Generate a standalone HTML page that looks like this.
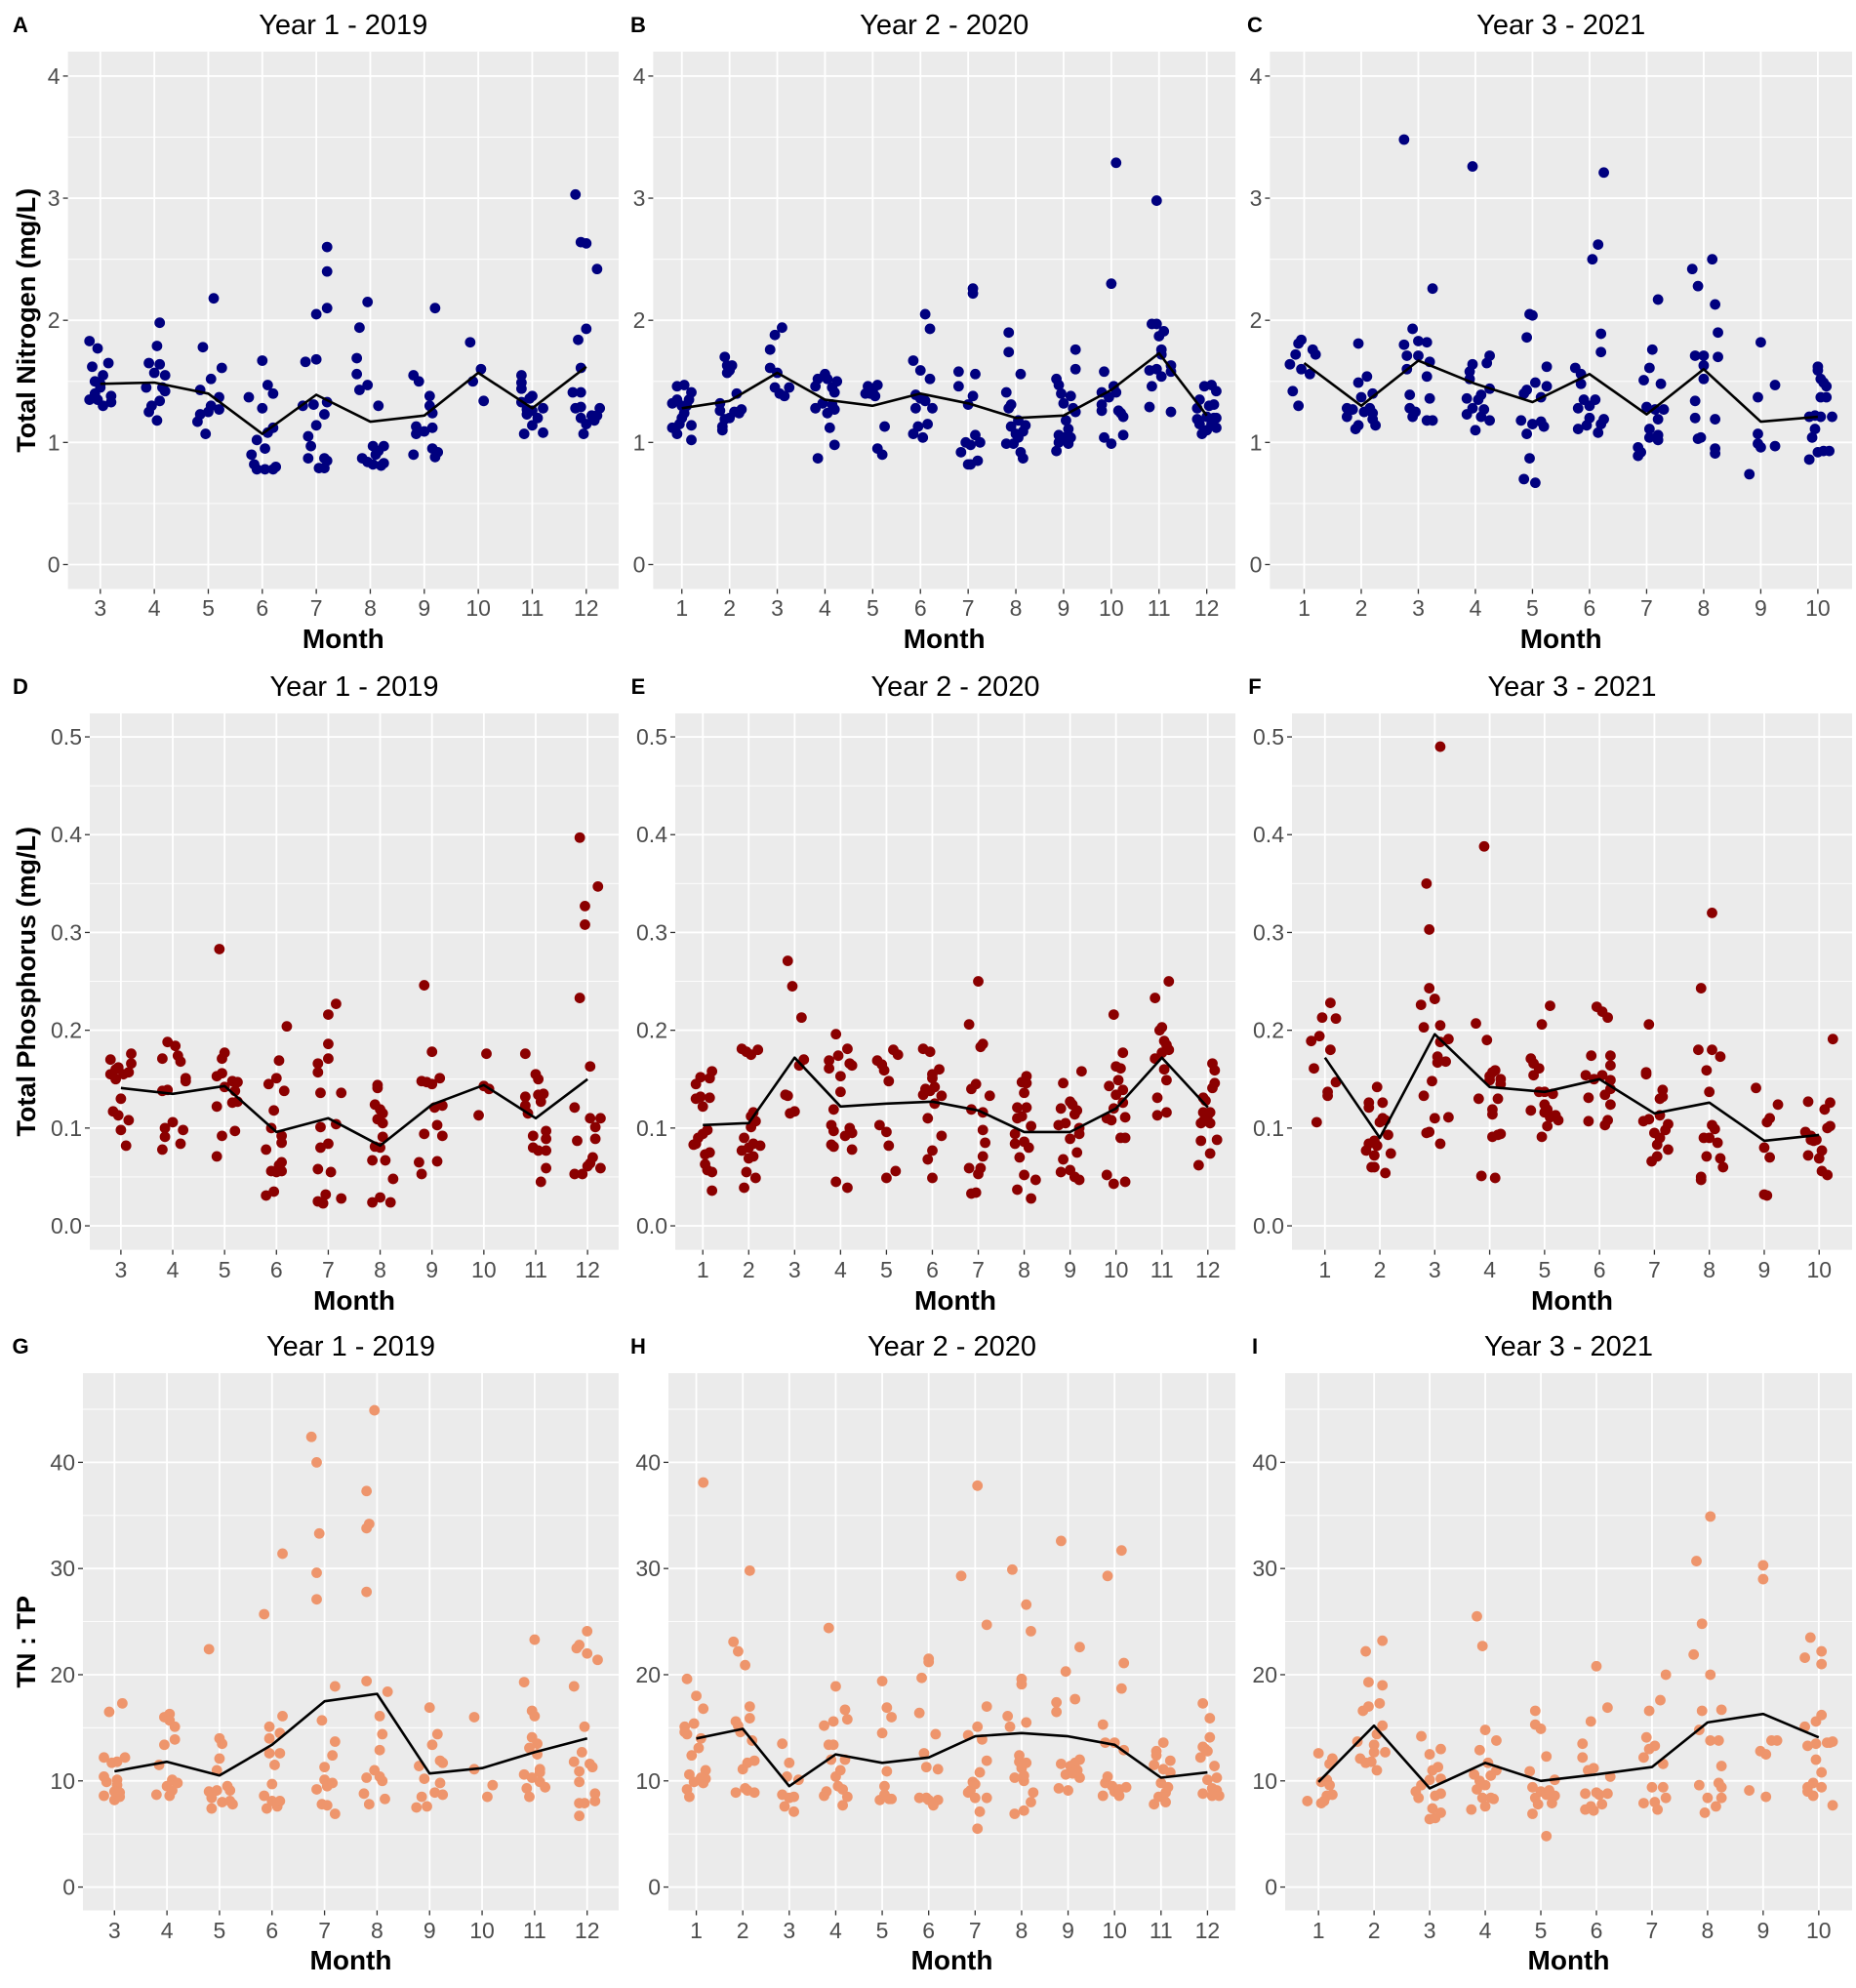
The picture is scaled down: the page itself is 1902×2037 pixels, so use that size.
<!DOCTYPE html>
<html><head><meta charset="utf-8"><style>
html,body{margin:0;padding:0;background:#fff;}
svg{display:block;font-family:"Liberation Sans",Arial,sans-serif;}
</style></head><body>
<svg id="fig" xmlns="http://www.w3.org/2000/svg" width="1902" height="2037" viewBox="0 0 1902 2037"></svg>
<script>
// ---------- DATA ----------
const monthsY1 = [3,4,5,6,7,8,9,10,11,12];
const monthsY2 = [1,2,3,4,5,6,7,8,9,10,11,12];
const monthsY3 = [1,2,3,4,5,6,7,8,9,10];
const tnTicks = [0,1,2,3,4];
const tpTicks = [0.0,0.1,0.2,0.3,0.4,0.5];
const ratioTicks = [0,10,20,30,40];
const tpTickLabels = ["0.0","0.1","0.2","0.3","0.4","0.5"];

const meanA = [1.48,1.49,1.40,1.07,1.39,1.17,1.22,1.57,1.28,1.62];
const meanB = [1.28,1.34,1.57,1.35,1.30,1.40,1.32,1.20,1.22,1.43,1.73,1.22];
const meanC = [1.65,1.30,1.67,1.48,1.33,1.56,1.23,1.60,1.17,1.21];
const meanD = [0.141,0.135,0.143,0.096,0.110,0.082,0.124,0.144,0.110,0.150];
const meanE = [0.103,0.105,0.172,0.122,0.125,0.127,0.118,0.096,0.096,0.120,0.172,0.121];
const meanF = [0.172,0.090,0.196,0.142,0.137,0.150,0.115,0.126,0.087,0.093];
const meanG = [10.9,11.8,10.5,13.4,17.5,18.2,10.7,11.2,12.7,14.0];
const meanH = [14.0,14.9,9.5,12.5,11.7,12.2,14.2,14.5,14.2,13.4,10.3,10.8];
const meanI = [9.9,15.2,9.3,11.7,10.0,10.6,11.3,15.5,16.3,14.1];

const ptsA = [[2.8,1.83],[2.85,1.62],[2.9,1.50],[2.95,1.77],[2.9,1.40],[3.0,1.45],[2.8,1.35],[2.95,1.35],[3.05,1.55],[3.05,1.30],[3.15,1.65],[3.2,1.38],[3.2,1.33],[3.0,1.48],
[3.85,1.45],[3.9,1.65],[3.9,1.25],[3.95,1.30],[4.0,1.57],[4.05,1.79],[4.1,1.98],[4.1,1.64],[4.1,1.34],[4.05,1.18],[4.2,1.55],[4.2,1.42],[4.15,1.45],
[4.8,1.17],[4.85,1.43],[4.85,1.23],[4.9,1.78],[4.95,1.07],[5.0,1.25],[5.05,1.52],[5.05,1.30],[5.1,2.18],[5.2,1.37],[5.2,1.27],[5.25,1.61],
[5.75,1.37],[5.8,0.90],[5.85,0.82],[5.9,1.02],[5.9,0.78],[6.0,1.28],[6.0,1.67],[6.05,0.95],[6.05,0.78],[6.1,1.08],[6.1,1.47],[6.2,1.40],[6.2,1.12],[6.25,0.80],[6.2,0.78],
[6.75,1.30],[6.8,1.66],[6.85,1.05],[6.85,0.87],[6.9,0.97],[6.95,1.31],[7.0,1.68],[7.0,2.05],[7.0,1.14],[7.05,0.79],[7.15,0.79],[7.15,0.87],[7.15,1.23],[7.2,2.10],[7.2,2.40],[7.2,2.60],[7.2,1.33],[7.2,0.85],
[7.75,1.69],[7.75,1.56],[7.8,1.43],[7.8,1.94],[7.85,0.87],[7.95,1.47],[7.95,2.15],[7.95,0.84],[8.05,0.82],[8.05,0.97],[8.1,0.90],[8.15,0.93],[8.15,1.30],[8.2,0.81],[8.25,0.83],[8.25,0.97],
[8.8,0.90],[8.8,1.55],[8.85,1.13],[8.85,1.07],[8.9,1.50],[9.0,1.09],[9.1,1.38],[9.1,1.30],[9.15,0.95],[9.15,1.24],[9.15,1.12],[9.2,2.10],[9.2,0.88],[9.25,0.92],
[9.85,1.82],[9.9,1.50],[10.05,1.60],[10.1,1.34],
[10.8,1.55],[10.8,1.49],[10.8,1.44],[10.8,1.33],[10.85,1.07],[10.9,1.27],[10.9,1.23],[10.95,1.36],[11.0,1.38],[11.0,1.26],[11.0,1.14],[11.1,1.20],[11.2,1.28],[11.2,1.08],
[11.75,1.41],[11.8,3.03],[11.8,1.28],[11.85,1.84],[11.9,2.64],[11.9,1.61],[11.9,1.41],[11.9,1.29],[11.9,1.20],[11.95,1.07],[12.0,2.63],[12.0,1.93],[12.0,1.15],[12.1,1.22],[12.15,1.18],[12.2,1.22],[12.2,2.42],[12.25,1.28]];

const ptsB = [[0.8,1.12],[0.8,1.32],[0.9,1.35],[0.9,1.46],[0.9,1.07],[0.95,1.15],[1.0,1.20],[1.05,1.24],[1.05,1.47],[1.1,1.30],[1.15,1.35],[1.2,1.41],[1.2,1.14],[1.2,1.02],[1.0,1.30],
[1.8,1.26],[1.8,1.32],[1.85,1.10],[1.85,1.13],[1.9,1.19],[1.9,1.70],[1.95,1.63],[1.95,1.57],[2.0,1.59],[2.0,1.20],[2.05,1.63],[2.1,1.25],[2.15,1.40],[2.2,1.24],[2.25,1.27],
[2.85,1.61],[2.85,1.76],[2.95,1.88],[2.95,1.45],[3.0,1.57],[3.05,1.40],[3.1,1.94],[3.15,1.38],[3.25,1.45],
[3.8,1.28],[3.8,1.46],[3.85,1.52],[3.85,0.87],[3.95,1.32],[4.0,1.56],[4.05,1.24],[4.05,1.52],[4.1,1.12],[4.15,1.45],[4.15,1.31],[4.2,1.41],[4.2,1.27],[4.25,1.50],[4.2,0.98],
[4.85,1.40],[4.9,1.46],[4.95,1.40],[5.0,1.42],[5.05,1.38],[5.1,1.47],[5.1,0.95],[5.2,0.90],[5.25,1.13],
[5.85,1.67],[5.85,1.07],[5.9,1.39],[5.9,1.28],[5.95,1.13],[6.0,1.36],[6.0,1.59],[6.05,1.04],[6.1,2.05],[6.1,1.34],[6.15,1.15],[6.2,1.93],[6.2,1.52],[6.25,1.28],
[6.8,1.58],[6.8,1.46],[6.85,0.92],[6.95,1.00],[7.0,1.31],[7.0,0.82],[7.05,0.82],[7.05,0.98],[7.1,2.26],[7.1,2.22],[7.1,1.38],[7.15,1.56],[7.15,1.06],[7.2,0.85],[7.25,1.00],
[7.8,1.41],[7.8,0.99],[7.85,1.74],[7.85,1.90],[7.85,1.28],[7.9,1.31],[7.9,1.13],[7.95,0.99],[8.0,1.07],[8.05,1.04],[8.05,1.18],[8.1,1.56],[8.1,0.92],[8.15,0.87],[8.15,1.09],[8.2,1.14],
[8.85,1.52],[8.85,0.93],[8.9,1.47],[8.9,1.00],[8.9,1.06],[8.95,1.40],[9.0,1.32],[9.0,1.04],[9.05,1.18],[9.1,0.99],[9.1,1.11],[9.15,1.38],[9.15,1.04],[9.2,1.28],[9.25,1.76],[9.25,1.60],[9.25,1.25],
[9.8,1.41],[9.8,1.31],[9.8,1.26],[9.85,1.58],[9.85,1.04],[9.95,1.37],[10.0,2.30],[10.0,0.99],[10.05,1.46],[10.1,3.29],[10.1,1.41],[10.15,1.26],[10.2,1.24],[10.25,1.21],[10.25,1.06],
[10.8,1.59],[10.8,1.29],[10.85,1.46],[10.85,1.97],[10.95,1.97],[10.95,2.98],[10.95,1.60],[11.0,1.87],[11.05,1.76],[11.05,1.72],[11.1,1.91],[11.05,1.54],[11.25,1.63],[11.25,1.58],[11.25,1.25],
[11.8,1.19],[11.8,1.28],[11.85,1.35],[11.85,1.15],[11.9,1.07],[11.95,1.46],[12.0,1.10],[12.0,1.21],[12.05,1.30],[12.1,1.47],[12.15,1.31],[12.15,1.20],[12.2,1.42],[12.2,1.12],[12.2,1.20],[12.1,1.15]];

const ptsC = [[0.75,1.64],[0.8,1.42],[0.85,1.72],[0.9,1.81],[0.9,1.30],[0.95,1.84],[0.95,1.60],[1.1,1.56],[1.15,1.76],[1.2,1.72],
[1.75,1.28],[1.75,1.21],[1.85,1.27],[1.9,1.11],[1.95,1.49],[1.95,1.81],[1.95,1.14],[2.0,1.37],[2.05,1.25],[2.1,1.54],[2.15,1.28],[2.2,1.40],[2.2,1.24],[2.2,1.19],[2.25,1.14],
[2.75,1.80],[2.75,3.48],[2.8,1.71],[2.8,1.60],[2.85,1.28],[2.85,1.39],[2.9,1.93],[2.9,1.21],[2.95,1.25],[3.0,1.83],[3.0,1.71],[3.15,1.82],[3.15,1.54],[3.15,1.18],[3.2,1.36],[3.2,1.66],[3.25,2.26],[3.25,1.18],
[3.85,1.36],[3.85,1.23],[3.9,1.58],[3.9,1.52],[3.95,1.64],[3.95,1.28],[3.95,3.26],[4.0,1.10],[4.05,1.35],[4.1,1.39],[4.1,1.21],[4.15,1.27],[4.2,1.65],[4.25,1.71],[4.25,1.44],[4.25,1.18],
[4.8,1.18],[4.85,1.40],[4.85,0.70],[4.9,1.07],[4.9,1.43],[4.9,1.86],[4.95,2.05],[4.95,0.87],[5.0,2.04],[5.0,1.15],[5.05,0.67],[5.05,1.49],[5.15,1.37],[5.15,1.17],[5.2,1.13],[5.25,1.46],[5.25,1.62],
[5.75,1.61],[5.8,1.28],[5.8,1.11],[5.85,1.56],[5.85,1.48],[5.9,1.35],[5.95,1.14],[6.0,1.30],[6.0,1.20],[6.05,2.50],[6.1,1.35],[6.15,2.62],[6.15,1.08],[6.2,1.15],[6.2,1.74],[6.2,1.89],[6.25,3.21],[6.25,1.19],
[6.85,0.96],[6.85,0.89],[6.9,0.92],[6.95,1.51],[7.0,1.29],[7.05,1.11],[7.05,1.61],[7.05,1.04],[7.1,1.76],[7.15,1.27],[7.2,1.19],[7.2,2.17],[7.2,1.02],[7.2,1.06],[7.25,1.48],[7.3,1.27],
[7.8,2.42],[7.85,1.71],[7.85,1.34],[7.85,1.20],[7.9,2.28],[7.9,1.03],[7.95,1.04],[8.0,1.63],[8.0,1.52],[8.0,1.71],[8.15,2.50],[8.2,1.19],[8.2,2.13],[8.2,0.91],[8.2,0.95],[8.25,1.90],[8.25,1.70],
[8.8,0.74],[8.95,1.37],[8.95,1.07],[8.95,0.99],[9.0,1.82],[9.0,0.96],[9.25,1.47],[9.25,0.97],
[9.85,1.21],[9.85,0.86],[9.9,1.04],[9.95,1.11],[9.95,1.22],[10.0,1.62],[10.0,0.92],[10.05,1.52],[10.05,1.37],[10.05,1.21],[10.1,1.49],[10.1,0.93],[10.15,1.46],[10.15,1.37],[10.2,0.93],[10.25,1.21],[10.0,1.59]];

const ptsD = [[2.8,0.155],[2.8,0.170],[2.85,0.117],[2.9,0.150],[2.9,0.160],[2.95,0.162],[2.95,0.113],[3.0,0.130],[3.0,0.098],[3.05,0.155],[3.1,0.082],[3.15,0.108],[3.2,0.166],[3.2,0.176],[3.15,0.157],
[3.8,0.171],[3.8,0.138],[3.8,0.078],[3.85,0.100],[3.85,0.091],[3.9,0.188],[3.9,0.139],[4.0,0.106],[4.05,0.184],[4.1,0.174],[4.15,0.168],[4.15,0.084],[4.2,0.098],[4.25,0.151],[4.25,0.148],
[4.85,0.071],[4.85,0.122],[4.85,0.153],[4.9,0.283],[4.95,0.156],[4.95,0.092],[4.95,0.171],[5.0,0.177],[5.0,0.142],[5.15,0.148],[5.15,0.126],[5.2,0.138],[5.2,0.097],[5.25,0.147],[5.25,0.127],
[5.8,0.031],[5.8,0.078],[5.85,0.145],[5.9,0.100],[5.9,0.056],[5.95,0.035],[5.95,0.118],[6.0,0.151],[6.0,0.055],[6.05,0.062],[6.05,0.169],[6.1,0.085],[6.1,0.092],[6.1,0.065],[6.1,0.056],[6.15,0.138],[6.2,0.204],
[6.8,0.025],[6.8,0.058],[6.8,0.157],[6.8,0.166],[6.85,0.101],[6.85,0.080],[6.85,0.136],[6.9,0.023],[6.95,0.032],[7.0,0.186],[7.0,0.171],[7.0,0.216],[7.0,0.084],[7.05,0.055],[7.15,0.104],[7.15,0.227],[7.25,0.028],[7.25,0.136],
[7.85,0.067],[7.85,0.024],[7.9,0.124],[7.9,0.081],[7.95,0.109],[7.95,0.144],[7.95,0.141],[8.0,0.119],[8.0,0.080],[8.0,0.029],[8.05,0.115],[8.05,0.105],[8.05,0.091],[8.1,0.067],[8.2,0.024],[8.25,0.048],
[8.75,0.065],[8.8,0.148],[8.8,0.053],[8.85,0.246],[8.85,0.094],[8.9,0.147],[9.0,0.178],[9.0,0.145],[9.05,0.121],[9.1,0.103],[9.1,0.066],[9.15,0.151],[9.2,0.123],[9.2,0.092],
[9.9,0.113],[10.0,0.143],[10.05,0.176],[10.1,0.140],
[10.8,0.176],[10.8,0.132],[10.8,0.123],[10.85,0.115],[10.95,0.080],[10.95,0.092],[11.0,0.155],[11.05,0.077],[11.05,0.134],[11.05,0.150],[11.1,0.045],[11.1,0.127],[11.15,0.135],[11.2,0.097],[11.2,0.089],[11.2,0.077],[11.2,0.059],
[11.75,0.121],[11.75,0.053],[11.8,0.087],[11.85,0.397],[11.85,0.233],[11.9,0.053],[11.95,0.308],[11.95,0.327],[12.0,0.061],[12.05,0.163],[12.05,0.110],[12.05,0.064],[12.1,0.070],[12.15,0.101],[12.15,0.089],[12.2,0.347],[12.25,0.110],[12.25,0.059]];

const ptsE = [[0.8,0.083],[0.85,0.084],[0.85,0.145],[0.85,0.130],[0.9,0.090],[0.95,0.132],[0.95,0.152],[1.0,0.122],[1.0,0.094],[1.05,0.063],[1.05,0.073],[1.1,0.057],[1.1,0.098],[1.15,0.131],[1.15,0.151],[1.15,0.075],[1.2,0.158],[1.2,0.055],[1.2,0.036],
[1.85,0.077],[1.85,0.181],[1.9,0.090],[1.9,0.039],[1.95,0.178],[1.95,0.055],[2.0,0.069],[2.0,0.080],[2.05,0.101],[2.05,0.112],[2.05,0.175],[2.1,0.116],[2.1,0.084],[2.1,0.071],[2.15,0.107],[2.15,0.049],[2.2,0.180],[2.25,0.082],
[2.8,0.134],[2.85,0.271],[2.85,0.133],[2.9,0.115],[2.95,0.245],[3.0,0.117],[3.1,0.164],[3.15,0.213],[3.2,0.170],
[3.75,0.169],[3.75,0.161],[3.8,0.103],[3.8,0.083],[3.85,0.119],[3.85,0.097],[3.85,0.081],[3.9,0.045],[3.9,0.196],[3.95,0.174],[4.0,0.153],[4.0,0.137],[4.1,0.092],[4.15,0.181],[4.15,0.039],[4.2,0.166],[4.2,0.100],[4.25,0.164],[4.25,0.095],[4.25,0.078],
[4.8,0.169],[4.85,0.103],[4.9,0.165],[4.95,0.159],[5.0,0.096],[5.0,0.049],[5.05,0.148],[5.05,0.082],[5.15,0.180],[5.2,0.056],[5.25,0.175],
[5.8,0.181],[5.8,0.134],[5.85,0.140],[5.9,0.110],[5.9,0.068],[5.95,0.178],[5.95,0.138],[6.0,0.151],[6.0,0.155],[6.0,0.077],[6.0,0.049],[6.05,0.142],[6.05,0.125],[6.15,0.160],[6.2,0.133],[6.2,0.092],
[6.8,0.206],[6.8,0.059],[6.85,0.140],[6.85,0.119],[6.85,0.033],[6.95,0.145],[6.95,0.034],[7.0,0.053],[7.0,0.250],[7.05,0.183],[7.05,0.059],[7.1,0.071],[7.1,0.116],[7.1,0.186],[7.1,0.098],[7.15,0.085],[7.25,0.133],
[7.8,0.094],[7.8,0.084],[7.85,0.121],[7.85,0.110],[7.85,0.037],[7.9,0.070],[7.95,0.147],[7.95,0.112],[8.0,0.136],[8.0,0.086],[8.0,0.052],[8.05,0.153],[8.05,0.121],[8.05,0.146],[8.1,0.080],[8.15,0.102],[8.15,0.028],[8.25,0.047],
[8.75,0.103],[8.8,0.055],[8.8,0.120],[8.85,0.068],[8.85,0.146],[8.9,0.105],[9.0,0.089],[9.0,0.127],[9.0,0.057],[9.05,0.124],[9.1,0.114],[9.1,0.050],[9.15,0.118],[9.15,0.075],[9.2,0.100],[9.2,0.094],[9.2,0.047],[9.25,0.158],
[9.8,0.110],[9.8,0.052],[9.85,0.143],[9.9,0.108],[9.95,0.216],[9.95,0.043],[9.95,0.120],[10.0,0.163],[10.0,0.134],[10.05,0.149],[10.1,0.161],[10.1,0.090],[10.15,0.126],[10.15,0.139],[10.15,0.177],[10.2,0.111],[10.2,0.045],[10.2,0.090],
[10.85,0.233],[10.85,0.171],[10.9,0.131],[10.9,0.113],[10.95,0.200],[11.0,0.203],[11.0,0.177],[11.05,0.160],[11.05,0.189],[11.1,0.116],[11.1,0.149],[11.1,0.185],[11.15,0.250],[11.15,0.180],
[11.8,0.062],[11.85,0.105],[11.85,0.087],[11.9,0.116],[11.9,0.131],[11.9,0.107],[11.95,0.128],[12.0,0.113],[12.05,0.116],[12.05,0.074],[12.05,0.105],[12.1,0.166],[12.1,0.141],[12.15,0.146],[12.15,0.159],[12.2,0.088]];

const ptsF = [[0.75,0.189],[0.8,0.161],[0.85,0.106],[0.9,0.194],[0.95,0.213],[1.05,0.137],[1.05,0.133],[1.1,0.180],[1.1,0.228],[1.2,0.212],[1.2,0.147],
[1.75,0.077],[1.8,0.126],[1.8,0.121],[1.8,0.084],[1.85,0.060],[1.9,0.087],[1.9,0.072],[1.9,0.060],[1.95,0.082],[1.95,0.142],[2.0,0.106],[2.05,0.126],[2.05,0.110],[2.1,0.108],[2.1,0.054],[2.15,0.093],[2.2,0.074],
[2.75,0.226],[2.8,0.203],[2.8,0.133],[2.85,0.350],[2.85,0.095],[2.9,0.243],[2.9,0.303],[2.9,0.096],[2.95,0.148],[3.0,0.232],[3.0,0.110],[3.05,0.173],[3.05,0.167],[3.1,0.490],[3.1,0.205],[3.1,0.188],[3.1,0.084],[3.2,0.168],[3.25,0.191],[3.25,0.111],
[3.75,0.207],[3.8,0.130],[3.85,0.051],[3.9,0.388],[3.95,0.190],[4.0,0.153],[4.0,0.149],[4.05,0.157],[4.05,0.119],[4.05,0.114],[4.05,0.091],[4.1,0.159],[4.1,0.049],[4.15,0.130],[4.15,0.093],[4.2,0.094],[4.2,0.150],[4.2,0.145],
[4.75,0.171],[4.75,0.118],[4.8,0.154],[4.8,0.166],[4.9,0.137],[4.9,0.161],[4.95,0.206],[4.95,0.091],[5.0,0.137],[5.0,0.124],[5.0,0.116],[5.05,0.102],[5.05,0.119],[5.1,0.225],[5.1,0.111],[5.15,0.135],[5.2,0.113],[5.25,0.108],
[5.75,0.154],[5.8,0.131],[5.8,0.107],[5.85,0.174],[5.9,0.150],[5.95,0.224],[6.05,0.219],[6.05,0.154],[6.1,0.134],[6.1,0.103],[6.15,0.108],[6.15,0.213],[6.2,0.174],[6.2,0.164],[6.2,0.149],[6.2,0.140],[6.2,0.124],
[6.8,0.107],[6.85,0.157],[6.85,0.155],[6.9,0.206],[6.9,0.109],[6.95,0.066],[7.0,0.095],[7.05,0.071],[7.05,0.083],[7.1,0.130],[7.1,0.090],[7.1,0.113],[7.15,0.139],[7.15,0.132],[7.2,0.098],[7.25,0.104],[7.25,0.078],
[7.8,0.180],[7.85,0.243],[7.85,0.050],[7.85,0.047],[7.9,0.090],[7.95,0.159],[7.95,0.071],[8.0,0.137],[8.0,0.090],[8.05,0.320],[8.05,0.180],[8.05,0.103],[8.1,0.099],[8.15,0.085],[8.2,0.173],[8.2,0.069],[8.25,0.060],
[8.85,0.141],[9.0,0.080],[9.0,0.032],[9.05,0.106],[9.05,0.031],[9.1,0.110],[9.1,0.070],[9.25,0.124],
[9.75,0.096],[9.8,0.127],[9.8,0.072],[9.85,0.092],[9.85,0.088],[9.9,0.087],[9.95,0.088],[10.0,0.069],[10.05,0.077],[10.05,0.056],[10.1,0.119],[10.15,0.100],[10.15,0.052],[10.2,0.102],[10.2,0.126],[10.25,0.191]];

const ptsG = [[2.8,12.2],[2.8,10.4],[2.8,8.6],[2.85,9.9],[2.9,16.5],[2.95,11.7],[3.0,8.2],[3.05,10.1],[3.05,11.8],[3.05,9.6],[3.1,8.9],[3.1,8.5],[3.15,17.3],[3.2,12.2],[3.0,9.0],
[3.8,8.7],[3.85,11.5],[3.95,16.0],[3.95,13.4],[4.0,9.5],[4.05,16.3],[4.05,15.7],[4.05,8.6],[4.1,9.1],[4.1,10.1],[4.15,15.1],[4.15,13.9],[4.2,9.8],
[4.8,22.4],[4.8,9.0],[4.85,7.4],[4.85,8.4],[4.95,11.0],[4.95,9.1],[5.0,12.1],[5.0,14.0],[5.05,8.0],[5.05,13.5],[5.15,9.5],[5.2,9.1],[5.2,8.1],[5.25,7.8],
[5.85,25.7],[5.85,8.6],[5.9,7.4],[5.95,15.1],[5.95,14.0],[5.95,12.6],[6.0,9.7],[6.0,8.1],[6.05,11.5],[6.1,7.6],[6.15,14.5],[6.15,12.6],[6.15,8.1],[6.2,31.4],[6.2,16.1],
[6.75,42.4],[6.85,40.0],[6.85,29.6],[6.85,27.1],[6.85,9.2],[6.9,33.3],[6.95,15.7],[6.95,7.8],[7.0,11.3],[7.0,10.1],[7.05,9.5],[7.05,7.7],[7.15,12.4],[7.15,9.8],[7.2,18.9],[7.2,13.7],[7.2,6.9],
[7.75,8.8],[7.8,33.8],[7.8,37.3],[7.8,27.8],[7.8,19.4],[7.8,10.3],[7.85,34.2],[7.85,7.8],[7.95,44.9],[7.95,11.0],[8.05,16.1],[8.05,12.9],[8.05,10.4],[8.1,10.0],[8.1,14.4],[8.15,8.3],[8.2,18.4],
[8.75,7.5],[8.8,11.4],[8.85,8.5],[8.9,10.2],[8.95,7.6],[9.0,16.9],[9.05,13.4],[9.1,8.9],[9.15,14.4],[9.2,11.9],[9.2,9.8],[9.25,11.7],[9.25,8.7],
[9.85,16.0],[9.85,11.1],[10.1,8.5],[10.2,9.6],
[10.8,19.3],[10.8,10.6],[10.85,9.3],[10.9,13.1],[10.9,8.5],[10.95,10.3],[10.95,14.1],[10.95,16.6],[11.0,16.1],[11.0,23.3],[11.05,13.5],[11.05,12.5],[11.1,11.1],[11.1,10.8],[11.1,9.9],[11.2,9.4],
[11.75,18.9],[11.75,11.8],[11.8,22.5],[11.85,22.8],[11.85,10.9],[11.85,9.9],[11.85,7.9],[11.85,6.7],[11.9,12.7],[11.95,15.1],[11.95,7.9],[12.0,24.1],[12.0,22.0],[12.05,11.6],[12.1,11.3],[12.15,8.1],[12.15,8.8],[12.2,21.4]];

const ptsH = [[0.75,14.6],[0.75,15.1],[0.8,19.6],[0.8,9.2],[0.8,14.4],[0.85,8.5],[0.85,10.6],[0.9,12.4],[0.95,15.4],[0.95,9.9],[1.0,18.0],[1.05,13.1],[1.1,14.0],[1.15,38.1],[1.15,16.8],[1.15,9.8],[1.2,10.2],[1.2,11.0],[1.1,10.3],
[1.8,23.1],[1.85,8.9],[1.85,15.6],[1.9,22.2],[1.9,15.2],[1.95,14.6],[2.0,11.1],[2.05,9.3],[2.05,20.9],[2.1,11.7],[2.1,9.1],[2.15,29.8],[2.15,15.9],[2.15,17.0],[2.2,13.8],[2.25,8.9],[2.25,11.9],
[2.85,13.5],[2.85,8.7],[2.9,7.6],[2.95,10.4],[3.0,8.4],[3.0,11.7],[3.1,8.5],[3.1,7.1],[3.2,10.1],
[3.75,15.2],[3.75,8.6],[3.8,9.0],[3.85,24.4],[3.85,13.4],[3.9,12.0],[3.95,15.6],[3.95,13.4],[4.0,18.9],[4.0,10.4],[4.05,9.5],[4.1,11.0],[4.15,7.7],[4.15,9.2],[4.2,16.7],[4.2,12.0],[4.25,15.8],[4.25,8.5],
[4.95,8.2],[5.0,19.4],[5.0,14.5],[5.05,8.7],[5.05,9.5],[5.1,16.9],[5.1,10.9],[5.15,8.3],[5.2,16.0],[5.2,8.3],
[5.8,16.4],[5.8,8.4],[5.85,19.7],[5.9,12.6],[5.95,11.3],[5.95,8.4],[6.0,8.2],[6.0,21.5],[6.0,21.2],[6.1,7.7],[6.15,14.4],[6.2,11.1],[6.2,8.2],
[6.7,29.3],[6.85,8.9],[6.85,14.3],[6.9,9.1],[6.95,9.9],[7.0,8.4],[7.0,9.7],[7.05,37.8],[7.05,15.1],[7.1,10.8],[7.1,7.1],[7.05,5.5],[7.15,13.9],[7.25,24.7],[7.25,17.0],[7.25,11.9],[7.25,8.4],
[7.7,16.1],[7.75,15.1],[7.8,29.9],[7.85,6.9],[7.85,10.3],[7.95,12.4],[7.95,11.8],[8.0,19.1],[8.0,19.6],[8.0,11.2],[8.05,10.0],[8.05,10.5],[8.05,7.2],[8.1,26.6],[8.1,15.5],[8.1,11.7],[8.2,24.1],[8.2,8.0],[8.25,8.9],
[8.75,17.4],[8.75,16.5],[8.8,9.3],[8.85,11.6],[8.85,32.6],[8.95,10.6],[8.95,20.3],[9.0,9.1],[9.05,11.4],[9.1,10.7],[9.15,17.7],[9.15,11.7],[9.2,11.0],[9.25,22.6],[9.25,12.0],[9.25,10.3],
[9.75,15.3],[9.75,8.6],[9.8,13.6],[9.8,9.8],[9.85,29.3],[9.85,10.4],[9.95,9.5],[10.0,13.6],[10.0,9.0],[10.1,8.6],[10.1,9.2],[10.15,31.7],[10.15,18.7],[10.2,21.1],[10.2,12.9],[10.25,9.4],
[10.85,11.5],[10.85,7.8],[10.9,12.8],[10.9,12.4],[10.95,8.5],[11.0,9.8],[11.05,11.1],[11.1,8.9],[11.1,8.0],[11.05,13.6],[11.15,9.4],[11.2,11.9],[11.2,10.8],
[11.85,12.2],[11.9,17.3],[11.9,13.2],[11.9,8.8],[11.95,13.0],[12.0,12.8],[12.0,10.1],[12.05,15.9],[12.05,14.1],[12.1,9.3],[12.1,8.6],[12.15,11.4],[12.2,10.3],[12.2,9.1],[12.25,8.6]];

const ptsI = [[0.8,8.1],[1.0,12.6],[1.05,9.9],[1.05,7.9],[1.1,8.1],[1.15,10.1],[1.15,8.6],[1.2,11.6],[1.2,9.6],[1.25,12.1],[1.25,8.7],
[1.7,13.7],[1.75,12.1],[1.8,16.6],[1.85,22.2],[1.85,11.7],[1.9,19.3],[1.9,17.0],[1.95,11.8],[2.0,12.7],[2.0,13.4],[2.05,11.0],[2.05,14.4],[2.1,17.3],[2.15,15.2],[2.15,19.0],[2.15,23.2],[2.2,12.7],
[2.75,9.0],[2.8,8.4],[2.85,14.2],[2.85,9.6],[3.0,12.5],[3.0,10.1],[3.0,6.4],[3.05,11.0],[3.05,7.4],[3.1,6.5],[3.1,8.6],[3.15,11.3],[3.2,10.2],[3.2,8.8],[3.2,13.0],[3.2,7.0],
[3.75,7.3],[3.8,10.6],[3.85,25.5],[3.85,9.2],[3.9,10.0],[3.9,12.9],[3.95,22.7],[3.95,8.4],[4.0,7.6],[4.0,14.8],[4.0,9.6],[4.05,11.7],[4.1,10.5],[4.1,8.4],[4.15,8.3],[4.2,13.8],[4.2,11.0],
[4.8,10.9],[4.85,6.9],[4.85,9.4],[4.9,16.6],[4.9,15.3],[4.9,8.4],[4.95,7.8],[5.0,9.0],[5.0,14.9],[5.1,12.3],[5.1,8.7],[5.1,4.8],[5.15,9.1],[5.2,7.9],[5.25,10.1],[5.25,8.6],
[5.75,13.5],[5.75,12.2],[5.8,8.8],[5.8,7.3],[5.85,11.0],[5.9,15.6],[5.9,7.6],[5.95,11.2],[5.95,7.2],[6.0,20.8],[6.0,8.9],[6.05,8.7],[6.1,7.8],[6.2,16.9],[6.2,8.8],[6.25,10.4],
[6.85,12.2],[6.85,7.9],[6.9,14.1],[6.95,13.0],[6.95,16.6],[7.0,9.4],[7.05,13.3],[7.05,8.0],[7.1,7.3],[7.15,17.6],[7.2,11.6],[7.2,9.4],[7.25,20.0],[7.25,8.4],
[7.75,21.9],[7.8,30.7],[7.85,9.6],[7.85,14.8],[7.9,16.6],[7.9,24.8],[7.95,7.0],[8.0,8.4],[8.05,13.8],[8.05,20.0],[8.05,34.9],[8.15,7.6],[8.2,13.8],[8.2,9.8],[8.25,11.4],[8.25,9.4],[8.25,16.7],[8.25,8.4],
[8.75,9.1],[8.95,12.8],[9.0,30.3],[9.0,29.0],[9.05,12.5],[9.05,8.5],[9.15,13.8],[9.25,13.8],
[9.75,21.6],[9.75,15.1],[9.8,13.3],[9.8,9.4],[9.8,9.0],[9.85,23.5],[9.9,8.6],[9.9,9.8],[9.95,13.5],[9.95,12.0],[9.95,15.6],[10.05,22.2],[10.05,21.0],[10.05,16.2],[10.05,10.8],[10.05,9.4],[10.15,13.6],[10.2,13.6],[10.25,13.7],[10.25,7.7]];

// ---------- LAYOUT ----------
const NS = "http://www.w3.org/2000/svg";
const svg = document.getElementById('fig');
function mk(tag, attrs, parent){ const e=document.createElementNS(NS,tag); for(const k in attrs) e.setAttribute(k,attrs[k]); (parent||svg).appendChild(e); return e; }

const rows = [
  {top:52.9,bottom:603.5,ymin:-0.2,ymax:4.2,ticks:tnTicks,labels:tnTicks.map(String),minorStep:0.5,titleY:25,tickY:623,monthY:654,ytitle:"Total Nitrogen (mg/L)",color:"#00007F"},
  {top:731,bottom:1280.6,ymin:-0.0245,ymax:0.524,ticks:tpTicks,labels:tpTickLabels,minorStep:0.05,titleY:703,tickY:1301,monthY:1332,ytitle:"Total Phosphorus (mg/L)",color:"#8B0000"},
  {top:1407,bottom:1957.5,ymin:-2.2,ymax:48.4,ticks:ratioTicks,labels:ratioTicks.map(String),minorStep:5,titleY:1379,tickY:1978,monthY:2008,ytitle:"TN : TP",color:"#EE956C"}
];
const panels = [
  {id:"A",row:0,left:69.6,right:634,months:monthsY1,mean:meanA,pts:ptsA,title:"Year 1 - 2019",lx:21},
  {id:"B",row:0,left:669.4,right:1266,months:monthsY2,mean:meanB,pts:ptsB,title:"Year 2 - 2020",lx:654},
  {id:"C",row:0,left:1301.4,right:1898,months:monthsY3,mean:meanC,pts:ptsC,title:"Year 3 - 2021",lx:1286},
  {id:"D",row:1,left:92,right:634,months:monthsY1,mean:meanD,pts:ptsD,title:"Year 1 - 2019",lx:21},
  {id:"E",row:1,left:692,right:1266,months:monthsY2,mean:meanE,pts:ptsE,title:"Year 2 - 2020",lx:654},
  {id:"F",row:1,left:1324,right:1898,months:monthsY3,mean:meanF,pts:ptsF,title:"Year 3 - 2021",lx:1286},
  {id:"G",row:2,left:85,right:634,months:monthsY1,mean:meanG,pts:ptsG,title:"Year 1 - 2019",lx:21},
  {id:"H",row:2,left:685,right:1266,months:monthsY2,mean:meanH,pts:ptsH,title:"Year 2 - 2020",lx:654},
  {id:"I",row:2,left:1317,right:1898,months:monthsY3,mean:meanI,pts:ptsI,title:"Year 3 - 2021",lx:1286}
];

panels.forEach(p=>{
  const r = rows[p.row];
  const xmin = p.months[0]-0.6, xmax = p.months[p.months.length-1]+0.6;
  const X = v => p.left + (v-xmin)/(xmax-xmin)*(p.right-p.left);
  const Y = v => r.bottom - (v-r.ymin)/(r.ymax-r.ymin)*(r.bottom-r.top);
  const g = mk('g',{});
  
  

  const bg = mk('rect',{x:p.left,y:r.top,width:p.right-p.left,height:r.bottom-r.top,fill:"#EBEBEB"},g);
  
  

  for(let v=r.ticks[0]+r.minorStep; v<r.ymax; v+=r.minorStep){
    const isMajor = r.ticks.some(t=>Math.abs(t-v)<1e-9);
    if(isMajor) continue;
    const ln = mk('line',{x1:p.left,x2:p.right,y1:Y(v),y2:Y(v),stroke:"#fff","stroke-width":0.9},g);
    
    
  }
  r.ticks.forEach(t=>{
    const ln = mk('line',{x1:p.left,x2:p.right,y1:Y(t),y2:Y(t),stroke:"#fff","stroke-width":1.8},g);
    
    
  });
  p.months.forEach(m=>{
    const ln = mk('line',{y1:r.top,y2:r.bottom,x1:X(m),x2:X(m),stroke:"#fff","stroke-width":1.8},g);
    
    
  });

  r.ticks.forEach((t,i)=>{
    const tk = mk('line',{x1:p.left-5,x2:p.left,y1:Y(t),y2:Y(t),stroke:"#333","stroke-width":1.3},g);
    
    
    const tx = mk('text',{x:p.left-8,y:Y(t)+8,"text-anchor":"end","font-size":23,fill:"#4D4D4D"},g);
    tx.textContent = r.labels[i];
    
    
  });
  p.months.forEach(m=>{
    const tk = mk('line',{x1:X(m),x2:X(m),y1:r.bottom,y2:r.bottom+5,stroke:"#333","stroke-width":1.3},g);
    
    
    const tx = mk('text',{x:X(m),y:r.tickY+8,"text-anchor":"middle","font-size":23,fill:"#4D4D4D"},g);
    tx.textContent = String(m);
    
    
  });

  p.pts.forEach(pt=>{
    const c = mk('circle',{cx:X(pt[0]),cy:Y(pt[1]),r:5.4,fill:r.color},g);
    
    
  });
  const d = p.mean.map((v,i)=>(i?'L':'M')+X(p.months[i]).toFixed(1)+','+Y(v).toFixed(1)).join(' ');
  const pl = mk('path',{d:d,fill:"none",stroke:"#000","stroke-width":2.6,"stroke-linejoin":"round"},g);
  
  

  const cx = (p.left+p.right)/2;
  const tt = mk('text',{x:cx,y:r.titleY+10,"text-anchor":"middle","font-size":29,fill:"#000"},g);
  tt.textContent = p.title;
  
  
  const lt = mk('text',{x:p.lx,y:r.titleY+8,"text-anchor":"middle","font-size":22,"font-weight":"bold",fill:"#000"},g);
  lt.textContent = p.id;
  
  
  const mt = mk('text',{x:cx,y:r.monthY+10,"text-anchor":"middle","font-size":28,"font-weight":"bold",fill:"#000"},g);
  mt.textContent = "Month";
  
  
  if(p.id==="A"||p.id==="D"||p.id==="G"){
    const cy=(r.top+r.bottom)/2;
    const yt = mk('text',{x:0,y:0,"text-anchor":"middle","font-size":27,"font-weight":"bold",fill:"#000",transform:`translate(36,${cy}) rotate(-90)`},g);
    yt.textContent = r.ytitle;
    
    
  }
});
</script>
</body></html>
